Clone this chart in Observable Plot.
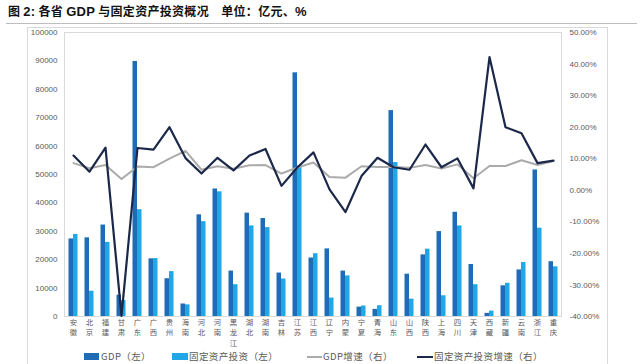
<!DOCTYPE html>
<html><head><meta charset="utf-8">
<script src="https://cdn.jsdelivr.net/npm/d3@7"></script>
<script src="https://cdn.jsdelivr.net/npm/@observablehq/plot@0.6"></script>
<style>
body{margin:0;width:640px;height:364px;overflow:hidden;background:#fff;font-family:"Noto Sans CJK SC","Liberation Sans",sans-serif;position:relative}
#title{position:absolute;left:8px;top:2px;font-size:12px;font-weight:bold;color:#111;white-space:nowrap;letter-spacing:0.3px}
#title .num{font-family:"Liberation Sans",Arial,sans-serif;font-size:13px}
#rule{position:absolute;left:6px;right:3px;top:23px;height:0;border-top:1.5px solid #bdbdbd}
#box{position:absolute;left:27px;top:27px;width:581px;height:345px;border:1px solid #d9d9d9;box-sizing:border-box}
#chart{position:absolute;left:0;top:27px;width:640px;height:337px}
#chart svg{position:absolute;left:0;top:0;overflow:visible}
.lg{position:absolute;top:351px;font-size:9.5px;color:#595959;white-space:nowrap;line-height:11px;letter-spacing:0.4px}
.sw{position:absolute}
</style></head>
<body>
<div id="title">图 <span class="num">2:</span> 各省 <span class="num">GDP</span> 与固定资产投资概况　单位：亿元、<span class="num">%</span></div>
<div id="rule"></div>
<div id="box"></div>
<div id="chart"></div>
<div id="legend"></div>
<script>
const provinces = ["安徽","北京","福建","甘肃","广东","广西","贵州","海南","河北","河南","黑龙江","湖北","湖南","吉林","江苏","江西","辽宁","内蒙","宁夏","青海","山东","山西","陕西","上海","四川","天津","西藏","新疆","云南","浙江","重庆"];
const gdp = [27300,27700,32200,7500,89800,20300,13300,4400,35800,44900,16000,36400,34500,15300,85800,20600,23800,16000,3300,2500,72500,14900,21700,29900,36700,18300,1100,10800,16400,51600,19300];
const fai = [28900,8900,26100,5600,37600,20400,15800,4100,33400,43900,11200,31900,31300,13200,53000,22100,6500,14300,3700,3800,54200,6100,23700,7300,31900,11200,1900,11700,19000,31100,17500];
const gdpGrowth = [8.6,7.0,8.0,3.6,7.5,7.3,10.0,12.5,6.5,7.6,6.8,7.9,8.0,5.3,7.2,8.8,4.2,4.0,7.6,7.4,7.4,7.1,8.0,6.9,8.2,3.8,7.7,7.7,9.5,8.0,9.3];
const faiGrowth = [11.0,5.9,13.5,-39.8,13.4,12.9,20.0,10.2,5.3,10.3,6.3,11.0,13.1,1.4,7.3,12.0,0.3,-6.9,4.5,10.3,7.3,6.5,14.5,7.3,10.1,0.6,42.2,20.0,18.1,8.6,9.4];
const leftTicks = [0,10000,20000,30000,40000,50000,60000,70000,80000,90000,100000];
const rightTicks = [-40,-30,-20,-10,0,10,20,30,40,50];
const seriesNames = ["GDP（左）","固定资产投资（左）","GDP增速（右）","固定资产投资增速（右）"];

const C_GDP="#1f6cb5", C_FAI="#21a7e5", C_GG="#ababab", C_FG="#1b2849";
const rows = provinces.map((p,i)=>({province:p,gdp:gdp[i],fai:fai[i],gg:gdpGrowth[i],fg:faiGrowth[i]}));
const W=640,H=337;
const common = {width:W,height:H,marginTop:5,marginBottom:48,marginLeft:64,marginRight:79,
  style:{color:"#595959",fontFamily:"'Liberation Sans','Noto Sans CJK SC',sans-serif",background:"transparent",overflow:"visible"}};
const xs = {type:"band",domain:provinces,padding:0,axis:null};

const bars = Plot.plot({...common,
  x:xs, y:{domain:[0,100000],axis:null},
  marks:[
    Plot.frame({stroke:"#d9d9d9"}),
    Plot.barY(rows,{x:"province",y:"gdp",fill:C_GDP,insetLeft:3.5,insetRight:8}),
    Plot.barY(rows,{x:"province",y:"fai",fill:C_FAI,insetLeft:8,insetRight:3.5}),
    Plot.axisY(leftTicks,{anchor:"left",tickSize:0,tickPadding:7,tickFormat:d=>String(d),fontSize:8}),
    Plot.text(rows,{x:"province",frameAnchor:"bottom",text:d=>d.province.split("").join("\n"),lineAnchor:"top",dy:0.5,fontSize:7.4,lineHeight:1.45,fill:"#595959",fontFamily:"'Noto Sans CJK SC',sans-serif"})
  ]});
const lines = Plot.plot({...common,
  x:xs, y:{domain:[-40,50],axis:null},
  marks:[
    Plot.line(rows,{x:"province",y:"gg",stroke:C_GG,strokeWidth:2}),
    Plot.line(rows,{x:"province",y:"fg",stroke:C_FG,strokeWidth:2.2}),
    Plot.axisY(rightTicks,{anchor:"right",tickSize:0,tickPadding:8,tickFormat:d=>d.toFixed(2)+"%",fontSize:8})
  ]});
const chart=document.getElementById("chart");
chart.appendChild(bars); chart.appendChild(lines);

const leg = document.getElementById("legend");
const items = [
  {x:84,w:15,h:7,c:C_GDP,tx:101,t:seriesNames[0]},
  {x:172,w:16,h:7,c:C_FAI,tx:189,t:seriesNames[1]},
  {x:307,w:15,h:2,c:C_GG,tx:323,t:seriesNames[2]},
  {x:417,w:16,h:2,c:C_FG,tx:434,t:seriesNames[3]}
];
for(const it of items){
  const s=document.createElement("div");s.className="sw";
  s.style.cssText=`left:${it.x}px;top:${356.5-it.h/2}px;width:${it.w}px;height:${it.h}px;background:${it.c}`;
  leg.appendChild(s);
  const t=document.createElement("div");t.className="lg";t.style.left=it.tx+"px";t.textContent=it.t;leg.appendChild(t);
}
</script>
</body></html>
